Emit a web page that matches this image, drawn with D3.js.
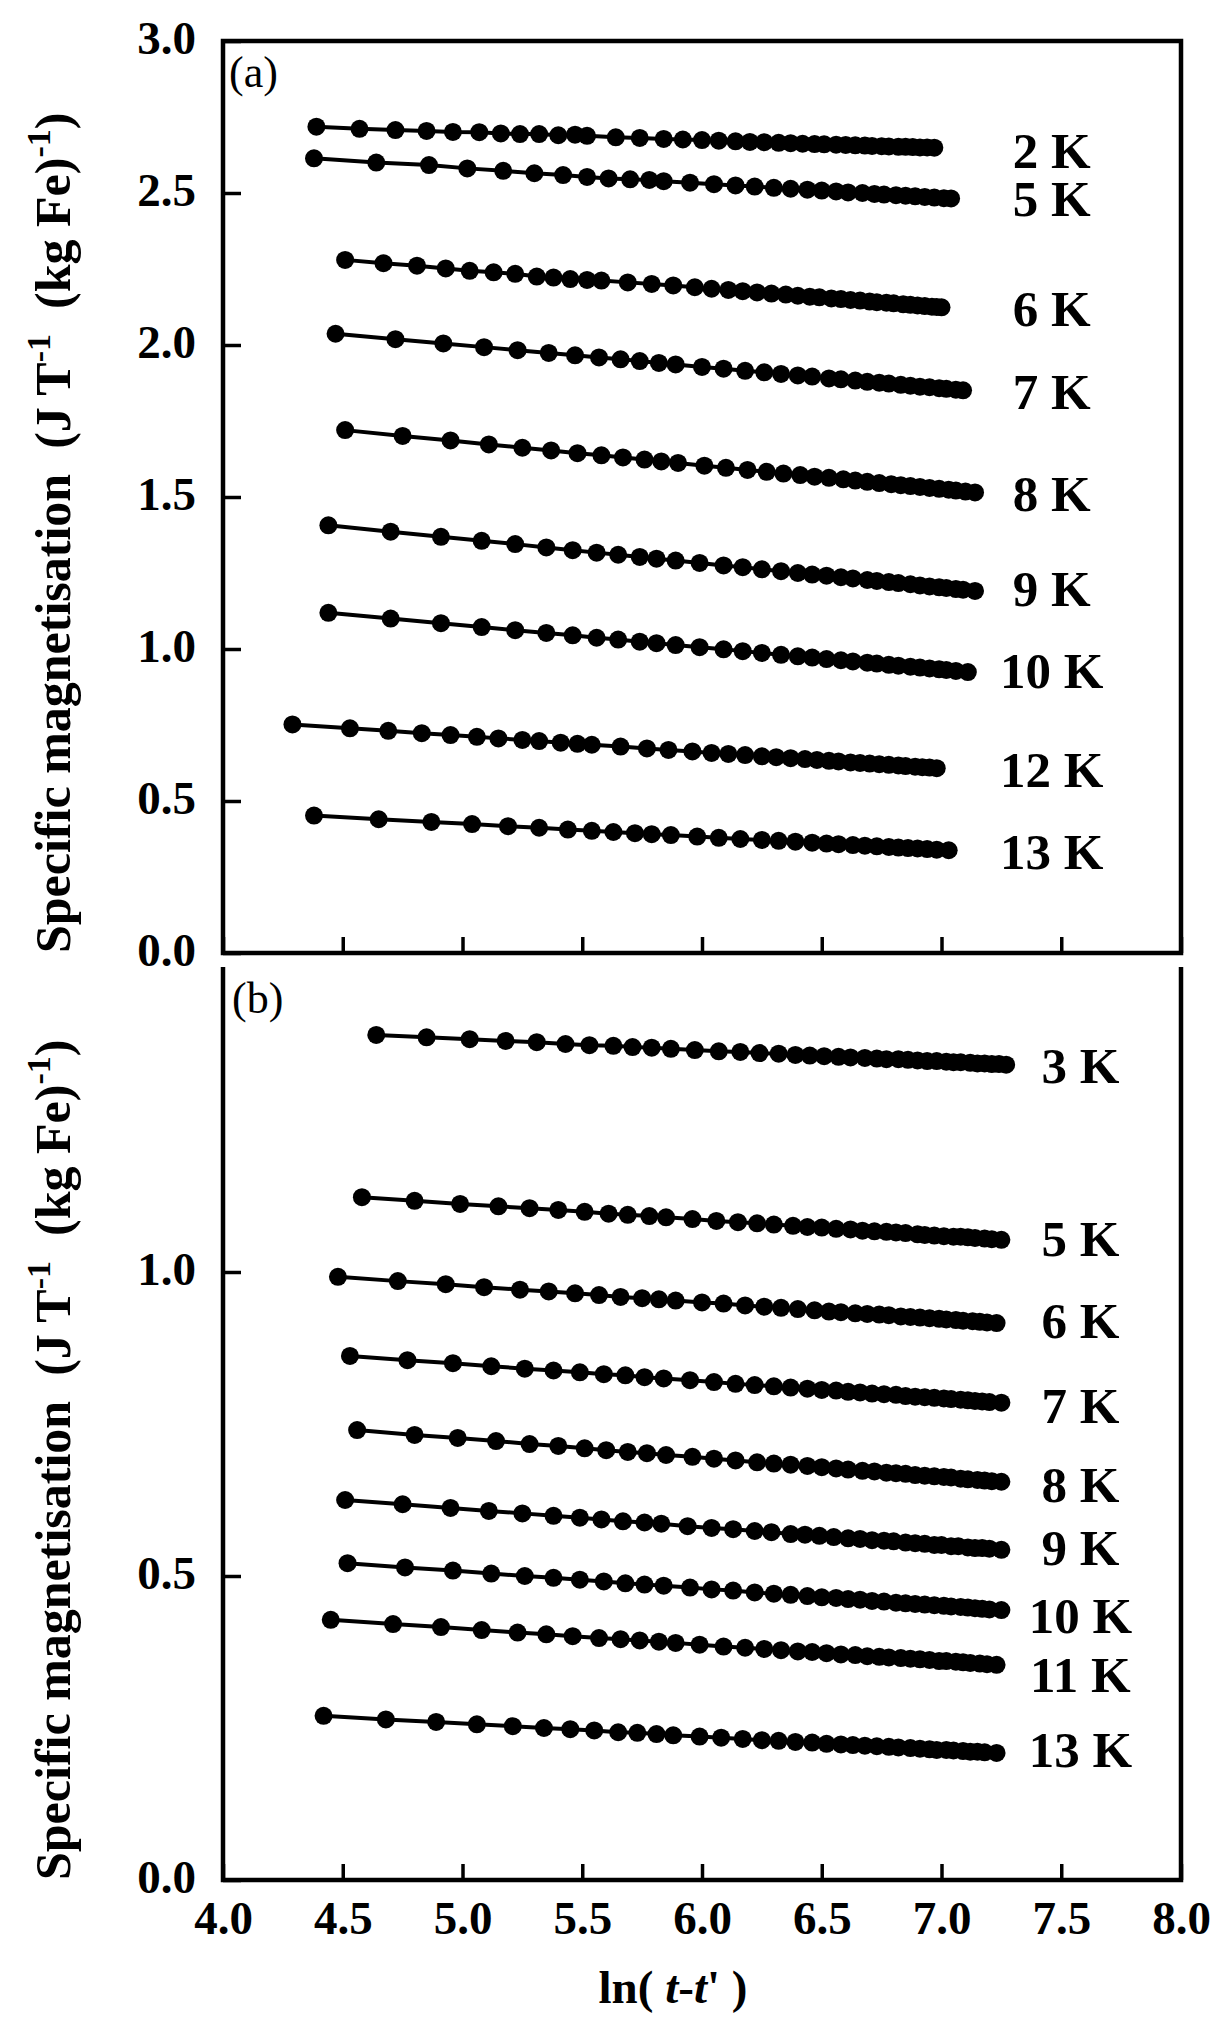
<!DOCTYPE html>
<html>
<head>
<meta charset="utf-8">
<script src="https://cdn.jsdelivr.net/npm/d3@7"></script>
<style>
  body { margin: 0; background: #fff; }
  svg { display: block; }
  text { font-family: "Liberation Serif", "Times New Roman", serif; fill: #000; }
</style>
</head>
<body>
<div id="chart"></div>
<script>
// ln(t-t') and specific magnetisation
// panel (a)
const lnT_a2 = [4.39,4.57,4.72,4.85,4.96,5.07,5.16,5.24,5.32,5.40,5.47,5.52,5.64,5.74,5.84,5.92,6.00,6.07,6.14,6.20,6.26,6.32,6.37,6.42,6.47,6.51,6.56,6.60,6.64,6.68,6.71,6.75,6.78,6.82,6.85,6.88,6.91,6.94,6.97];
const mag_a2 = [2.718,2.711,2.707,2.704,2.701,2.700,2.696,2.694,2.694,2.690,2.692,2.688,2.683,2.681,2.678,2.676,2.674,2.672,2.670,2.668,2.667,2.665,2.664,2.662,2.661,2.660,2.659,2.658,2.657,2.656,2.655,2.654,2.653,2.652,2.652,2.651,2.650,2.650,2.649];
const lnT_a5 = [4.38,4.64,4.86,5.02,5.17,5.30,5.42,5.52,5.61,5.70,5.78,5.84,5.95,6.05,6.14,6.22,6.30,6.37,6.44,6.50,6.56,6.61,6.67,6.72,6.76,6.81,6.85,6.89,6.93,6.97,7.01,7.04];
const mag_a5 = [2.614,2.600,2.592,2.581,2.573,2.565,2.559,2.553,2.548,2.545,2.543,2.539,2.534,2.529,2.525,2.521,2.517,2.514,2.511,2.508,2.505,2.502,2.500,2.497,2.495,2.493,2.491,2.489,2.487,2.485,2.483,2.482];
const lnT_a6 = [4.51,4.67,4.81,4.93,5.03,5.13,5.22,5.31,5.38,5.45,5.52,5.58,5.69,5.79,5.88,5.97,6.04,6.11,6.17,6.23,6.29,6.35,6.40,6.45,6.49,6.54,6.58,6.62,6.66,6.70,6.73,6.77,6.80,6.84,6.87,6.90,6.93,6.96,6.98,7.00];
const mag_a6 = [2.280,2.269,2.261,2.252,2.244,2.239,2.234,2.225,2.222,2.217,2.214,2.212,2.206,2.201,2.196,2.190,2.185,2.181,2.177,2.173,2.169,2.166,2.162,2.159,2.157,2.153,2.151,2.148,2.146,2.143,2.141,2.139,2.137,2.134,2.132,2.130,2.128,2.126,2.125,2.124];
const lnT_a7 = [4.47,4.72,4.92,5.09,5.23,5.36,5.47,5.57,5.66,5.74,5.82,5.89,6.00,6.09,6.18,6.26,6.33,6.40,6.46,6.53,6.58,6.64,6.69,6.74,6.78,6.83,6.87,6.91,6.95,6.99,7.02,7.06,7.09];
const mag_a7 = [2.037,2.019,2.005,1.993,1.983,1.974,1.966,1.959,1.953,1.947,1.941,1.936,1.928,1.922,1.915,1.910,1.905,1.900,1.896,1.890,1.887,1.883,1.879,1.876,1.873,1.869,1.866,1.863,1.861,1.858,1.856,1.853,1.851];
const lnT_a8 = [4.51,4.75,4.95,5.11,5.25,5.37,5.48,5.58,5.67,5.76,5.83,5.90,6.01,6.10,6.19,6.27,6.34,6.41,6.47,6.53,6.59,6.64,6.69,6.74,6.79,6.83,6.87,6.91,6.95,6.99,7.03,7.06,7.10,7.14];
const mag_a8 = [1.720,1.701,1.686,1.673,1.662,1.653,1.644,1.637,1.630,1.623,1.617,1.612,1.603,1.596,1.589,1.583,1.577,1.572,1.567,1.563,1.558,1.554,1.550,1.546,1.542,1.539,1.536,1.533,1.530,1.527,1.524,1.521,1.518,1.515];
const lnT_a9 = [4.44,4.70,4.91,5.08,5.22,5.35,5.46,5.56,5.65,5.74,5.81,5.89,5.99,6.09,6.17,6.25,6.33,6.40,6.46,6.52,6.58,6.63,6.69,6.73,6.78,6.82,6.87,6.91,6.95,6.99,7.02,7.06,7.09,7.14];
const mag_a9 = [1.407,1.386,1.369,1.356,1.345,1.334,1.325,1.317,1.310,1.303,1.297,1.291,1.283,1.275,1.269,1.262,1.256,1.250,1.245,1.241,1.236,1.232,1.227,1.224,1.220,1.217,1.213,1.209,1.206,1.203,1.201,1.197,1.195,1.191];
const lnT_a10 = [4.44,4.70,4.91,5.08,5.22,5.35,5.46,5.56,5.65,5.74,5.81,5.89,5.99,6.09,6.17,6.25,6.33,6.40,6.46,6.52,6.58,6.63,6.69,6.73,6.78,6.82,6.87,6.91,6.95,6.99,7.02,7.06,7.11];
const mag_a10 = [1.119,1.100,1.085,1.072,1.062,1.053,1.045,1.037,1.031,1.024,1.019,1.013,1.006,0.999,0.993,0.987,0.981,0.976,0.972,0.967,0.963,0.959,0.955,0.952,0.948,0.945,0.942,0.939,0.936,0.933,0.931,0.928,0.924];
const lnT_a12 = [4.29,4.53,4.69,4.83,4.95,5.06,5.15,5.25,5.32,5.41,5.48,5.54,5.66,5.77,5.86,5.96,6.04,6.11,6.18,6.25,6.31,6.37,6.43,6.48,6.53,6.57,6.62,6.66,6.70,6.74,6.78,6.82,6.85,6.89,6.92,6.95,6.98];
const mag_a12 = [0.752,0.739,0.731,0.723,0.717,0.711,0.706,0.701,0.697,0.692,0.688,0.685,0.679,0.673,0.668,0.663,0.658,0.655,0.651,0.647,0.644,0.641,0.638,0.635,0.632,0.630,0.627,0.625,0.623,0.621,0.619,0.617,0.615,0.613,0.611,0.610,0.608];
const lnT_a13 = [4.38,4.65,4.87,5.04,5.19,5.32,5.44,5.54,5.63,5.72,5.79,5.87,5.98,6.07,6.16,6.25,6.32,6.39,6.46,6.52,6.57,6.63,6.68,6.73,6.78,6.82,6.86,6.90,6.94,6.98,7.03];
const mag_a13 = [0.452,0.440,0.431,0.424,0.417,0.412,0.406,0.402,0.398,0.394,0.391,0.388,0.383,0.379,0.375,0.372,0.369,0.366,0.363,0.360,0.358,0.355,0.353,0.351,0.349,0.347,0.345,0.344,0.342,0.340,0.338];

// panel (b)
const lnT_b3 = [4.64,4.85,5.03,5.18,5.31,5.43,5.53,5.63,5.71,5.79,5.87,5.97,6.07,6.16,6.24,6.32,6.39,6.45,6.51,6.57,6.62,6.68,6.73,6.77,6.82,6.86,6.90,6.94,6.98,7.02,7.05,7.08,7.12,7.15,7.18,7.21,7.24,7.27];
const mag_b3 = [1.390,1.386,1.383,1.380,1.378,1.375,1.373,1.372,1.370,1.369,1.367,1.365,1.363,1.362,1.360,1.359,1.357,1.356,1.355,1.354,1.353,1.352,1.351,1.350,1.350,1.349,1.348,1.347,1.347,1.346,1.345,1.345,1.344,1.343,1.343,1.342,1.342,1.341];
const lnT_b5 = [4.58,4.80,4.99,5.15,5.28,5.40,5.51,5.61,5.69,5.78,5.85,5.96,6.06,6.15,6.23,6.30,6.38,6.44,6.50,6.56,6.62,6.67,6.72,6.77,6.81,6.85,6.90,6.93,6.97,7.01,7.05,7.08,7.11,7.14,7.18,7.21,7.25];
const mag_b5 = [1.123,1.117,1.112,1.108,1.105,1.102,1.099,1.096,1.094,1.092,1.090,1.087,1.084,1.082,1.080,1.078,1.076,1.074,1.073,1.071,1.070,1.068,1.067,1.066,1.065,1.064,1.062,1.061,1.060,1.059,1.058,1.058,1.057,1.056,1.055,1.054,1.053];
const lnT_b6 = [4.48,4.73,4.93,5.09,5.24,5.36,5.47,5.57,5.66,5.75,5.82,5.89,6.00,6.09,6.18,6.26,6.33,6.40,6.47,6.53,6.58,6.64,6.69,6.74,6.78,6.83,6.87,6.91,6.95,6.99,7.02,7.06,7.09,7.13,7.16,7.19,7.23];
const mag_b6 = [0.992,0.985,0.980,0.975,0.971,0.968,0.965,0.962,0.959,0.957,0.955,0.953,0.950,0.948,0.945,0.943,0.941,0.939,0.937,0.935,0.934,0.932,0.931,0.930,0.929,0.927,0.926,0.925,0.924,0.923,0.922,0.921,0.920,0.919,0.918,0.917,0.916];
const lnT_b7 = [4.53,4.77,4.96,5.12,5.26,5.38,5.49,5.59,5.68,5.76,5.84,5.95,6.05,6.14,6.22,6.30,6.37,6.44,6.50,6.56,6.61,6.66,6.71,6.76,6.81,6.85,6.89,6.93,6.97,7.01,7.04,7.08,7.11,7.14,7.17,7.20,7.25];
const mag_b7 = [0.862,0.855,0.850,0.845,0.841,0.838,0.835,0.832,0.830,0.827,0.825,0.822,0.819,0.816,0.814,0.812,0.810,0.808,0.806,0.805,0.803,0.802,0.800,0.799,0.798,0.796,0.795,0.794,0.793,0.792,0.791,0.790,0.789,0.788,0.787,0.786,0.785];
const lnT_b8 = [4.56,4.80,4.98,5.14,5.28,5.40,5.51,5.60,5.69,5.77,5.85,5.96,6.05,6.14,6.23,6.30,6.37,6.44,6.50,6.56,6.61,6.67,6.72,6.77,6.81,6.85,6.89,6.93,6.97,7.01,7.04,7.08,7.11,7.15,7.18,7.21,7.25];
const mag_b8 = [0.740,0.732,0.727,0.722,0.717,0.714,0.710,0.707,0.704,0.702,0.699,0.696,0.693,0.690,0.687,0.685,0.683,0.681,0.679,0.677,0.675,0.673,0.672,0.670,0.669,0.668,0.666,0.665,0.664,0.663,0.662,0.660,0.659,0.658,0.657,0.656,0.655];
const lnT_b9 = [4.51,4.75,4.95,5.11,5.25,5.38,5.49,5.58,5.67,5.76,5.83,5.94,6.04,6.13,6.22,6.29,6.37,6.43,6.49,6.55,6.61,6.66,6.71,6.76,6.80,6.85,6.89,6.93,6.97,7.00,7.04,7.07,7.11,7.14,7.17,7.20,7.25];
const mag_b9 = [0.625,0.618,0.612,0.607,0.603,0.599,0.596,0.593,0.590,0.588,0.586,0.582,0.579,0.577,0.574,0.572,0.569,0.568,0.566,0.564,0.562,0.561,0.559,0.558,0.557,0.555,0.554,0.553,0.551,0.551,0.549,0.549,0.547,0.546,0.546,0.545,0.543];
const lnT_b10 = [4.52,4.76,4.96,5.12,5.26,5.38,5.49,5.59,5.68,5.76,5.84,5.95,6.04,6.13,6.22,6.30,6.37,6.44,6.50,6.56,6.61,6.66,6.71,6.76,6.81,6.85,6.89,6.93,6.97,7.01,7.04,7.08,7.11,7.14,7.17,7.20,7.25];
const mag_b10 = [0.521,0.514,0.509,0.504,0.500,0.497,0.494,0.491,0.488,0.486,0.484,0.481,0.478,0.476,0.473,0.471,0.469,0.467,0.465,0.464,0.462,0.461,0.459,0.458,0.456,0.455,0.454,0.453,0.452,0.451,0.450,0.449,0.448,0.447,0.446,0.445,0.444];
const lnT_b11 = [4.45,4.71,4.91,5.08,5.23,5.35,5.46,5.57,5.66,5.74,5.82,5.89,5.99,6.09,6.18,6.26,6.33,6.40,6.46,6.52,6.58,6.64,6.69,6.74,6.78,6.83,6.87,6.91,6.95,6.99,7.02,7.06,7.09,7.12,7.16,7.19,7.23];
const mag_b11 = [0.428,0.421,0.416,0.411,0.407,0.404,0.401,0.398,0.396,0.394,0.392,0.390,0.387,0.384,0.382,0.380,0.378,0.376,0.375,0.373,0.371,0.370,0.368,0.367,0.366,0.365,0.364,0.363,0.362,0.360,0.360,0.359,0.358,0.357,0.356,0.355,0.354];
const lnT_b13 = [4.42,4.68,4.89,5.06,5.21,5.34,5.45,5.55,5.65,5.73,5.81,5.88,5.99,6.08,6.17,6.25,6.32,6.39,6.46,6.52,6.58,6.63,6.68,6.73,6.78,6.82,6.87,6.91,6.95,6.98,7.02,7.05,7.09,7.12,7.15,7.18,7.23];
const mag_b13 = [0.270,0.264,0.260,0.256,0.253,0.250,0.248,0.246,0.243,0.242,0.240,0.238,0.236,0.234,0.232,0.230,0.229,0.227,0.226,0.224,0.223,0.222,0.221,0.220,0.219,0.218,0.217,0.216,0.215,0.214,0.214,0.213,0.212,0.211,0.211,0.210,0.209];

// labels and ticks
const labelsA = ["2 K", "5 K", "6 K", "7 K", "8 K", "9 K", "10 K", "12 K", "13 K"];
const labelsB = ["3 K", "5 K", "6 K", "7 K", "8 K", "9 K", "10 K", "11 K", "13 K"];
const xTicks = [4.0, 4.5, 5.0, 5.5, 6.0, 6.5, 7.0, 7.5, 8.0];
const yTicksA = [0.0, 0.5, 1.0, 1.5, 2.0, 2.5, 3.0];
const yTicksB = [0.0, 0.5, 1.0];

//------------------------------------------------------------------------------------->
const seriesA = [
  [lnT_a2, mag_a2], [lnT_a5, mag_a5], [lnT_a6, mag_a6], [lnT_a7, mag_a7], [lnT_a8, mag_a8],
  [lnT_a9, mag_a9], [lnT_a10, mag_a10], [lnT_a12, mag_a12], [lnT_a13, mag_a13]
].map(function (s, i) {
  return { label: labelsA[i], pts: s[0].map(function (x, j) { return [x, s[1][j]]; }) };
});
const seriesB = [
  [lnT_b3, mag_b3], [lnT_b5, mag_b5], [lnT_b6, mag_b6], [lnT_b7, mag_b7], [lnT_b8, mag_b8],
  [lnT_b9, mag_b9], [lnT_b10, mag_b10], [lnT_b11, mag_b11], [lnT_b13, mag_b13]
].map(function (s, i) {
  return { label: labelsB[i], pts: s[0].map(function (x, j) { return [x, s[1][j]]; }) };
});

// vertical nudge of each temperature label (px, from the last point)
const nudgeA = [20, 18, 19, 19, 19, 15, 16, 19, 19];
const nudgeB = [18, 16, 15, 20, 20, 15, 23, 27, 14];

const W = 1214, H = 2018;
const left = 223, right = 1181;
const svg = d3.select("#chart").append("svg").attr("width", W).attr("height", H);

let x = d3.scaleLinear().domain([4, 8]).range([left, right]);
let yA = d3.scaleLinear().domain([0, 3]).range([953, 41]);
let yB = d3.scaleLinear().domain([0, 1.5]).range([1880, 968]);

function drawPanel(series, y, labelX, nudge) {
  let g = svg.append("g");
  let ln = d3.line()
    .x(function (d) { return x(d[0]); })
    .y(function (d) { return y(d[1]); });

  let s = g.selectAll(".series").data(series).enter().append("g").attr("class", "series");
  s.append("path")
    .attr("d", function (d) { return ln(d.pts); })
    .attr("fill", "none")
    .attr("stroke", "#000")
    .attr("stroke-width", 4);
  s.selectAll("circle")
    .data(function (d) { return d.pts; })
    .enter()
    .append("circle")
    .attr("cx", function (d) { return x(d[0]); })
    .attr("cy", function (d) { return y(d[1]); })
    .attr("r", 9)
    .attr("fill", "#000");

  // temperature labels
  g.selectAll(".lab").data(series).enter().append("text")
    .attr("class", "lab")
    .attr("x", x(labelX))
    .attr("y", function (d, i) { return y(d.pts[d.pts.length - 1][1]) + nudge[i]; })
    .attr("text-anchor", "middle")
    .style("font-size", "51px")
    .style("font-weight", "bold")
    .text(function (d) { return d.label; });
  return g;
}

drawPanel(seriesA, yA, 7.46, nudgeA);
drawPanel(seriesB, yB, 7.58, nudgeB);

// frames: (a) closed box, (b) open at the top
svg.append("path")
  .attr("d", "M" + left + "," + yA(3) + "H" + right + "V" + yA(0) + "H" + left + "Z")
  .attr("fill", "none").attr("stroke", "#000").attr("stroke-width", 4.5);
svg.append("path")
  .attr("d", "M" + left + "," + (yB(1.5) - 1) + "V" + yB(0) + "H" + right + "V" + (yB(1.5) - 1))
  .attr("fill", "none").attr("stroke", "#000").attr("stroke-width", 4.5);

function styleAxis(g) {
  g.select(".domain").remove();
  g.selectAll(".tick line").attr("stroke", "#000").attr("stroke-width", 3.5);
  g.selectAll(".tick text")
    .attr("font-family", null)
    .style("font-size", "47px")
    .style("font-weight", "bold")
    .attr("fill", "#000");
  g.attr("font-size", null).attr("font-family", null);
}

// y axes
svg.append("g").attr("transform", "translate(" + left + ",0)")
  .call(d3.axisLeft(yA).tickValues(yTicksA).tickSize(-18).tickPadding(27).tickFormat(d3.format(".1f")))
  .call(styleAxis)
  .selectAll(".tick text").attr("dy", "0.26em");
svg.append("g").attr("transform", "translate(" + left + ",0)")
  .call(d3.axisLeft(yB).tickValues(yTicksB).tickSize(-18).tickPadding(27).tickFormat(d3.format(".1f")))
  .call(styleAxis)
  .selectAll(".tick text").attr("dy", "0.26em");

// x axes (labels only under panel b)
svg.append("g").attr("transform", "translate(0," + yA(0) + ")")
  .call(d3.axisBottom(x).tickValues(xTicks).tickSize(-16).tickFormat(""))
  .call(styleAxis);
svg.append("g").attr("transform", "translate(0," + yB(0) + ")")
  .call(d3.axisBottom(x).tickValues(xTicks).tickSize(-16).tickPadding(21).tickFormat(d3.format(".1f")))
  .call(styleAxis);

// panel letters
svg.append("text").attr("x", 229).attr("y", 87).style("font-size", "44px").text("(a)");
svg.append("text").attr("x", 232).attr("y", 1013).style("font-size", "44px").text("(b)");

// y titles
function yTitle(yBottom) {
  let t = svg.append("text")
    .attr("transform", "translate(70," + yBottom + ") rotate(-90)")
    .attr("text-anchor", "start")
    .style("font-size", "50px")
    .style("font-weight", "bold")
    .style("white-space", "pre");
  t.append("tspan").text("Specific magnetisation  (J T");
  t.append("tspan").attr("dy", -20).style("font-size", "34px").text("-1");
  t.append("tspan").attr("dy", 20).text("  (kg Fe)");
  t.append("tspan").attr("dy", -20).style("font-size", "34px").text("-1");
  t.append("tspan").attr("dy", 20).text(")");
}
yTitle(yA(0));
yTitle(yB(0));

// x title
let xt = svg.append("text")
  .attr("x", 673).attr("y", 2003)
  .attr("text-anchor", "middle")
  .style("font-size", "47px")
  .style("font-weight", "bold")
  .style("white-space", "pre");
xt.append("tspan").text("ln( ");
xt.append("tspan").style("font-style", "italic").text("t");
xt.append("tspan").text("-");
xt.append("tspan").style("font-style", "italic").text("t");
xt.append("tspan").text("' )");
</script>
</body>
</html>
